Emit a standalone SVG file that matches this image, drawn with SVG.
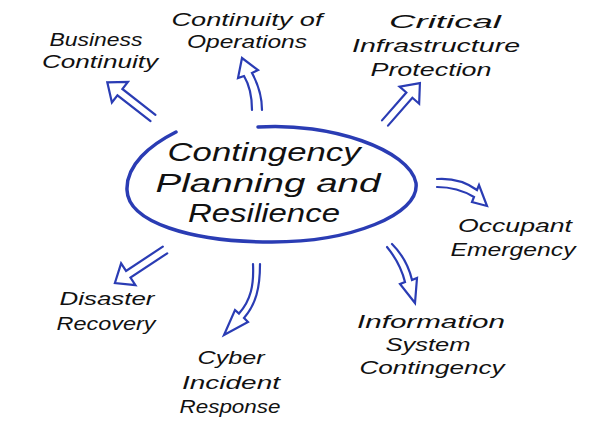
<svg xmlns="http://www.w3.org/2000/svg" width="600" height="426" viewBox="0 0 600 426">
<style>
.lbl{font-family:"Liberation Sans",Arial,sans-serif;font-style:italic;font-size:19px;fill:#111;text-anchor:middle}
.ctr{font-size:26px}
.arr{fill:none;stroke:#2a3cb4;stroke-width:2.2;stroke-linejoin:miter;stroke-linecap:round}
.ell{fill:none;stroke:#2a3cb4;stroke-width:3.5;stroke-linecap:round}
</style>
<rect width="600" height="426" fill="#fff"/>
<g id="center">
<path class="ell" d="M258,127 C330,122 410,150 416,183 C420,215 350,242 272,242 C190,242 128,222 127,190 C126,165 150,145 176,132"/>
<text class="lbl ctr" x="264" y="161" textLength="193" lengthAdjust="spacingAndGlyphs">Contingency</text>
<text class="lbl ctr" x="268" y="192" textLength="225" lengthAdjust="spacingAndGlyphs">Planning and</text>
<text class="lbl ctr" x="264" y="222" textLength="152" lengthAdjust="spacingAndGlyphs">Resilience</text>
</g>
<g id="connectors">
<path class="arr" d="M0,-4 L42,-4 L42,-13 L58,0 L42,13 L42,4 L0,4" transform="translate(153,118) rotate(218)"/>
<path class="arr" d="M252,110 C252,96 250,86 244,76 L238,78 L242,58 L258,70 L252,73 C258,84 262,96 262,110"/>
<path class="arr" d="M0,-4 L37,-4 L37,-13 L53,0 L37,13 L37,4 L0,4" transform="translate(385,123) rotate(-48.8)"/>
<path class="arr" d="M437,179 C452,178 466,182 477,190 L479,185 L487,206 L472,202 L474,197 C464,191 451,187 437,187"/>
<path class="arr" d="M387,247 C396,258 402,270 405,282 L400,284 L415,303 L417,278 L412,280 C409,267 402,254 392,244"/>
<path class="arr" d="M253,264 C254,285 251,300 239,313.6 L235,310 L224,335 L248,322 L244,318 C256,304 260,288 260,264"/>
<path class="arr" d="M0,-4 L44,-4 L44,-13 L60,0 L44,13 L44,4 L0,4" transform="translate(165,250) rotate(146.6)"/>
</g>
<g id="business-continuity">
<text class="lbl" x="96" y="46" textLength="93" lengthAdjust="spacingAndGlyphs">Business</text>
<text class="lbl" x="100" y="68" textLength="116" lengthAdjust="spacingAndGlyphs">Continuity</text>
</g>
<g id="continuity-of-operations">
<text class="lbl" x="247" y="26" textLength="151" lengthAdjust="spacingAndGlyphs">Continuity of</text>
<text class="lbl" x="247" y="48" textLength="120" lengthAdjust="spacingAndGlyphs">Operations</text>
</g>
<g id="critical-infrastructure-protection">
<text class="lbl" x="445" y="28" textLength="112" lengthAdjust="spacingAndGlyphs">Critical</text>
<text class="lbl" x="436" y="52" textLength="168" lengthAdjust="spacingAndGlyphs">Infrastructure</text>
<text class="lbl" x="431" y="76" textLength="121" lengthAdjust="spacingAndGlyphs">Protection</text>
</g>
<g id="occupant-emergency">
<text class="lbl" x="515" y="232" textLength="114" lengthAdjust="spacingAndGlyphs">Occupant</text>
<text class="lbl" x="513" y="256" textLength="125" lengthAdjust="spacingAndGlyphs">Emergency</text>
</g>
<g id="information-system-contingency">
<text class="lbl" x="431" y="328" textLength="148" lengthAdjust="spacingAndGlyphs">Information</text>
<text class="lbl" x="428" y="351" textLength="85" lengthAdjust="spacingAndGlyphs">System</text>
<text class="lbl" x="432" y="374" textLength="145" lengthAdjust="spacingAndGlyphs">Contingency</text>
</g>
<g id="cyber-incident-response">
<text class="lbl" x="231" y="364" textLength="67" lengthAdjust="spacingAndGlyphs">Cyber</text>
<text class="lbl" x="231" y="389" textLength="98" lengthAdjust="spacingAndGlyphs">Incident</text>
<text class="lbl" x="230" y="413" textLength="101" lengthAdjust="spacingAndGlyphs">Response</text>
</g>
<g id="disaster-recovery">
<text class="lbl" x="107" y="305" textLength="95" lengthAdjust="spacingAndGlyphs">Disaster</text>
<text class="lbl" x="106" y="330" textLength="99" lengthAdjust="spacingAndGlyphs">Recovery</text>
</g>
</svg>
